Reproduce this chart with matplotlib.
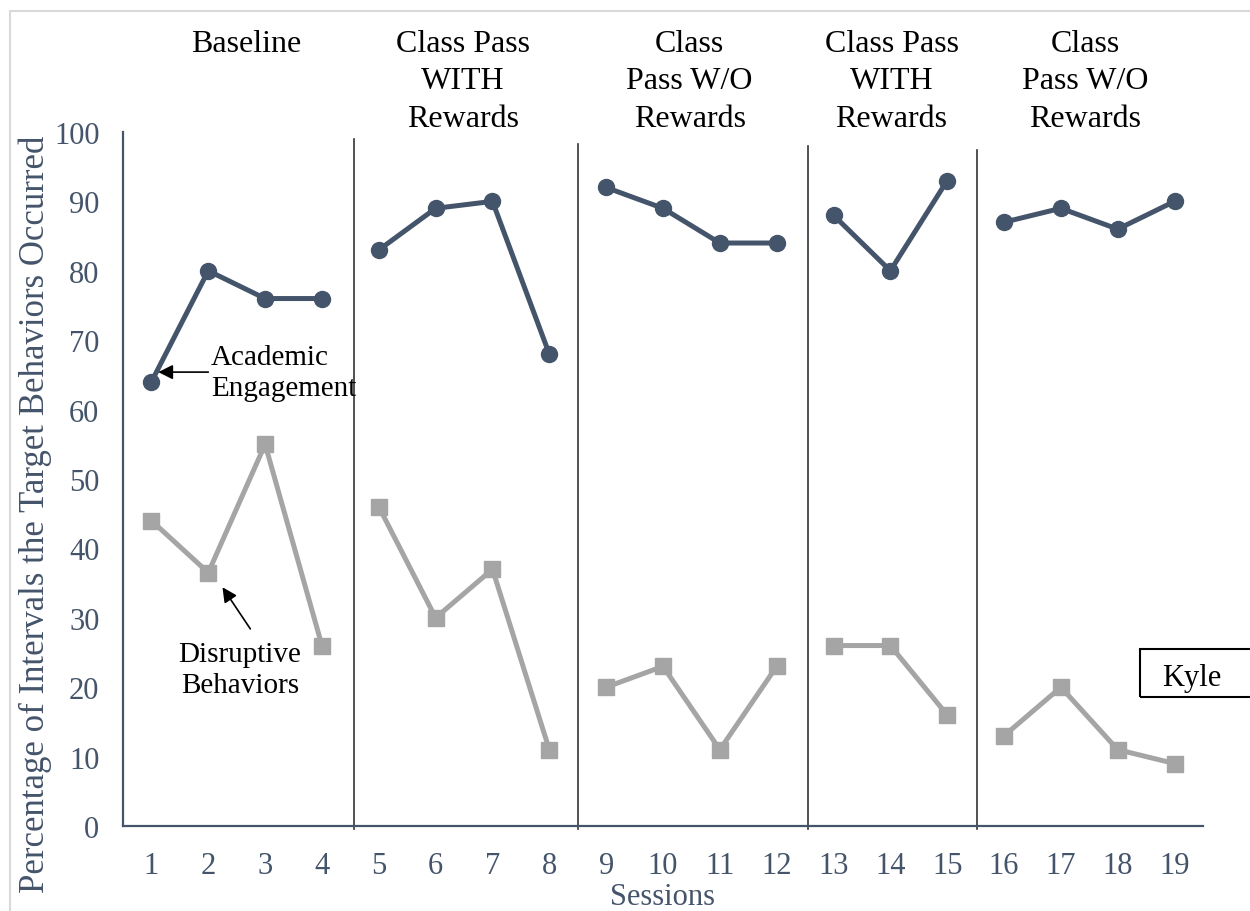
import matplotlib.pyplot as plt
from matplotlib.patches import Rectangle

plt.rcParams['font.family'] = ['Liberation Serif', 'DejaVu Serif']

sessions = list(range(1, 20))
academic = [64, 80, 76, 76, 83, 89, 90, 68, 92, 89, 84, 84, 88, 80, 93, 87, 89, 86, 90]
disruptive = [44, 36.5, 55, 26, 46, 30, 37, 11, 20, 23, 11, 23, 26, 26, 16, 13, 20, 11, 9]

# phase groups (sessions in each phase)
phases = [[1, 2, 3, 4], [5, 6, 7, 8], [9, 10, 11, 12], [13, 14, 15], [16, 17, 18, 19]]
phase_names = ['Baseline', 'Class Pass\nWITH\nRewards', 'Class\nPass W/O\nRewards',
               'Class Pass\nWITH\nRewards', 'Class\nPass W/O\nRewards']
phase_label_x = [2.67, 6.48, 10.47, 14.02, 17.43]
phase_lines = [4.57, 8.5, 12.55, 15.53]
phase_line_tops = [99, 98.3, 98, 97.4]

slate = '#44546A'
grey = '#A5A5A5'

fig = plt.figure(figsize=(12.5, 9.12), dpi=100)
ax = fig.add_axes([0.0984, 0.0932, 0.864, 0.761])

for ph in phases:
    i0, i1 = ph[0] - 1, ph[-1]
    ax.plot(sessions[i0:i1], academic[i0:i1], color=slate, lw=3.6, marker='o', ms=11.5, zorder=3)
    ax.plot(sessions[i0:i1], disruptive[i0:i1], color=grey, lw=3.6, marker='s', ms=11, zorder=3)

for x, top in zip(phase_lines, phase_line_tops):
    ax.plot([x, x], [-0.5, top], color='#333333', lw=1.2, clip_on=False, zorder=2)

for x, name in zip(phase_label_x, phase_names):
    ax.text(x, 114.9, name, ha='center', va='top', fontsize=23, linespacing=1.4, clip_on=False)

ax.set_xlim(0.5, 19.5)
ax.set_ylim(0, 100)
ax.set_xticks(sessions)
ax.set_yticks(range(0, 101, 10))
ax.tick_params(length=0, labelsize=22, labelcolor=slate)
ax.tick_params(axis='y', pad=17)
ax.tick_params(axis='x', pad=18)
for s in ['top', 'right']:
    ax.spines[s].set_visible(False)
for s in ['left', 'bottom']:
    ax.spines[s].set_color(slate)
    ax.spines[s].set_linewidth(1.6)

ax.annotate('Academic\nEngagement', xy=(1.12, 65.4), xytext=(2.05, 65.4),
            fontsize=21, va='center', ha='left', linespacing=1.25,
            arrowprops=dict(arrowstyle='-|>', color='black', lw=1.2, mutation_scale=22,
                            shrinkA=0, shrinkB=0, relpos=(0, 0.5)))
ax.annotate('', xy=(2.25, 34.4), xytext=(2.74, 28.4),
            arrowprops=dict(arrowstyle='-|>', color='black', lw=1.2, mutation_scale=22,
                            shrinkA=0, shrinkB=0))
ax.text(2.56, 22.6, 'Disruptive\nBehaviors', fontsize=21, ha='center', va='center', linespacing=1.25)

fig.text(35 / 1250, 1 - 514 / 912, 'Percentage of Intervals the Target Behaviors Occurred',
         rotation=90, ha='center', va='center', fontsize=25, color=slate)
fig.text(662 / 1250, 1 - 898 / 912, 'Sessions', ha='center', va='center', fontsize=22, color=slate)

fig.patches.append(Rectangle((1140 / 1250, 1 - 698 / 912), 0.2, 48 / 912, transform=fig.transFigure,
                             fill=False, edgecolor='black', lw=1.5))
fig.text(1162 / 1250, 1 - 679 / 912, 'Kyle', ha='left', va='center', fontsize=22)

fig.patches.append(Rectangle((10 / 1250, -0.1), 1.1, 1.1 - 12 / 912, transform=fig.transFigure,
                             fill=False, edgecolor='#D9D9D9', lw=1.5))

fig.savefig('out.png', dpi=100)
